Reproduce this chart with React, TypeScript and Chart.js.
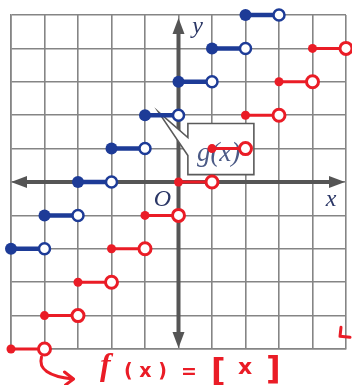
import { useEffect, useRef } from "react";
import { Chart, registerables } from "chart.js";

Chart.register(...registerables);

// g(x) = [x] + 3 : left end of each step and its value
const gLeft = [-5, -4, -3, -2, -1, 0, 1, 2];
const gValues = [-2, -1, 0, 1, 2, 3, 4, 5];
// f(x) = [x] : left end of each step and its value
const fLeft = [-5, -4, -3, -2, -1, 0, 1, 2, 3, 4];
const fValues = [-5, -4, -3, -2, -1, 0, 1, 2, 3, 4];

const axisMin = -5;
const axisMax = 5;

const BLUE = "#1d3b97";
const RED = "#ea1c26";
const AXIS = "#555555";
const GRID = "#858585";
const LABEL = "#2b3766";

type Pt = { x: number; y: number | null };

// each step: closed end, open end, then a gap
function stepPoints(lefts: number[], values: number[]): Pt[] {
  const pts: Pt[] = [];
  lefts.forEach((x, i) => {
    pts.push({ x, y: values[i] });
    pts.push({ x: x + 1, y: values[i] });
    pts.push({ x: x + 0.5, y: null });
  });
  return pts;
}

const decorations = {
  id: "decorations",
  beforeDatasetsDraw(chart: any) {
    const ctx = chart.ctx as CanvasRenderingContext2D;
    const xs = chart.scales.x;
    const ys = chart.scales.y;
    const x0 = xs.getPixelForValue(0);
    const y0 = ys.getPixelForValue(0);
    const xl = xs.getPixelForValue(axisMin);
    const xr = xs.getPixelForValue(axisMax);
    const yt = ys.getPixelForValue(axisMax);
    const yb = ys.getPixelForValue(axisMin);
    ctx.save();

    // axes with arrowheads
    ctx.strokeStyle = AXIS;
    ctx.fillStyle = AXIS;
    ctx.lineWidth = 4;
    ctx.beginPath();
    ctx.moveTo(xl + 10, y0);
    ctx.lineTo(xr - 10, y0);
    ctx.moveTo(x0, yt + 12);
    ctx.lineTo(x0, yb - 12);
    ctx.stroke();
    const head = (tx: number, ty: number, dx: number, dy: number) => {
      const len = 16;
      const w = 6;
      const bx = tx - dx * len;
      const by = ty - dy * len;
      ctx.beginPath();
      ctx.moveTo(tx, ty);
      ctx.lineTo(bx - dy * w, by + dx * w);
      ctx.lineTo(bx + dy * w, by - dx * w);
      ctx.closePath();
      ctx.fill();
    };
    head(xl, y0, -1, 0);
    head(xr - 1, y0, 1, 0);
    head(x0, yt + 3, 0, -1);
    head(x0, yb - 1, 0, 1);

    // axis letters
    ctx.fillStyle = LABEL;
    ctx.textAlign = "center";
    ctx.textBaseline = "alphabetic";
    ctx.font = 'italic 24px "Liberation Serif"';
    ctx.fillText("x", xr - 15, y0 + 24);
    ctx.fillText("y", x0 + 19, yt + 18);
    ctx.fillText("O", x0 - 16, y0 + 24);

    // callout box for g(x)
    const bl = xs.getPixelForValue(0.28);
    const br = xs.getPixelForValue(2.25);
    const bt = ys.getPixelForValue(1.75);
    const bb = ys.getPixelForValue(0.22);
    const tipX = xs.getPixelForValue(-0.6);
    const tipY = ys.getPixelForValue(2.1);
    ctx.beginPath();
    ctx.moveTo(bl, bt + 14);
    ctx.lineTo(bl, bt);
    ctx.lineTo(br, bt);
    ctx.lineTo(br, bb);
    ctx.lineTo(bl, bb);
    ctx.lineTo(bl, bt + 32);
    ctx.lineTo(tipX, tipY);
    ctx.closePath();
    ctx.fillStyle = "#ffffff";
    ctx.fill();
    ctx.strokeStyle = "#5a5a5a";
    ctx.lineWidth = 1.6;
    ctx.lineJoin = "miter";
    ctx.stroke();
    ctx.fillStyle = "#4b5a86";
    ctx.font = 'italic 27px "Liberation Serif"';
    ctx.textAlign = "left";
    ctx.fillText("g(x)", bl + 9, bt + 37);
    ctx.restore();
  },
  afterDatasetsDraw(chart: any) {
    const ctx = chart.ctx as CanvasRenderingContext2D;
    const xs = chart.scales.x;
    const ys = chart.scales.y;
    const ox = xs.getPixelForValue(-4);
    const oy = ys.getPixelForValue(-5);
    ctx.save();
    ctx.strokeStyle = RED;
    ctx.fillStyle = RED;
    ctx.lineCap = "round";
    ctx.lineJoin = "round";

    // curved arrow from the open end down to the label
    ctx.lineWidth = 3;
    ctx.beginPath();
    ctx.moveTo(ox - 3, oy + 8);
    ctx.quadraticCurveTo(ox - 8, oy + 26, ox + 28, oy + 30);
    ctx.stroke();
    ctx.beginPath();
    ctx.moveTo(ox + 20, oy + 23);
    ctx.lineTo(ox + 29, oy + 30);
    ctx.lineTo(ox + 21, oy + 36);
    ctx.stroke();

    // small mark at the right edge
    const mx = xs.getPixelForValue(5);
    const my = ys.getPixelForValue(-4.5);
    ctx.beginPath();
    ctx.moveTo(mx - 5, my - 5);
    ctx.lineTo(mx - 6, my + 4);
    ctx.lineTo(mx + 4, my + 5);
    ctx.stroke();

    // handwritten label
    ctx.textBaseline = "alphabetic";
    ctx.textAlign = "left";
    ctx.font = 'italic bold 32px "Liberation Serif"';
    ctx.fillText("f", 100, 375);
    ctx.font = 'bold 19px "DejaVu Sans"';
    ctx.fillText("( x )", 124, 377);
    ctx.fillText("=", 181, 378);
    ctx.font = 'bold 32px "DejaVu Sans"';
    ctx.fillText("[", 211, 381);
    ctx.fillText("]", 266, 379);
    ctx.font = 'bold 22px "DejaVu Sans"';
    ctx.fillText("x", 238, 374);
    ctx.restore();
  },
};

function makeDataset(
  pts: Pt[],
  color: string,
  lineWidth: number,
  dotR: number,
  ringR: number,
  ringW: number
) {
  return {
    data: pts,
    borderColor: color,
    borderWidth: lineWidth,
    spanGaps: false,
    showLine: true,
    clip: false as const,
    pointStyle: "circle" as const,
    pointRadius: (c: any) => (c.dataIndex % 3 === 0 ? dotR : c.dataIndex % 3 === 1 ? ringR : 0),
    pointBackgroundColor: (c: any) => (c.dataIndex % 3 === 0 ? color : "#ffffff"),
    pointBorderColor: color,
    pointBorderWidth: (c: any) => (c.dataIndex % 3 === 1 ? ringW : 0),
    pointHoverRadius: 0,
  };
}

export default function App() {
  const ref = useRef<HTMLCanvasElement>(null);

  useEffect(() => {
    if (!ref.current) return;
    const chart = new Chart(ref.current, {
      type: "scatter",
      data: {
        datasets: [
          makeDataset(stepPoints(gLeft, gValues), BLUE, 4.5, 6, 5.5, 2.5),
          makeDataset(stepPoints(fLeft, fValues), RED, 3, 4.5, 6, 3),
        ],
      },
      options: {
        responsive: false,
        animation: false,
        devicePixelRatio: 1,
        layout: { padding: { left: 11, right: 4, top: 15, bottom: 36 } },
        plugins: { legend: { display: false }, tooltip: { enabled: false } },
        events: [],
        scales: {
          x: {
            type: "linear",
            min: axisMin,
            max: axisMax,
            ticks: { display: false, stepSize: 1 },
            grid: { color: GRID, lineWidth: 1.6, drawTicks: false },
            border: { display: true, color: GRID, width: 1.6 },
          },
          y: {
            type: "linear",
            min: axisMin,
            max: axisMax,
            ticks: { display: false, stepSize: 1 },
            grid: { color: GRID, lineWidth: 1.6, drawTicks: false },
            border: { display: true, color: GRID, width: 1.6 },
          },
        },
      },
      plugins: [decorations],
    });
    return () => chart.destroy();
  }, []);

  return (
    <div style={{ position: "absolute", left: 0, top: 0, width: 352, height: 385, background: "#ffffff" }}>
      <canvas ref={ref} width={352} height={385} />
    </div>
  );
}
